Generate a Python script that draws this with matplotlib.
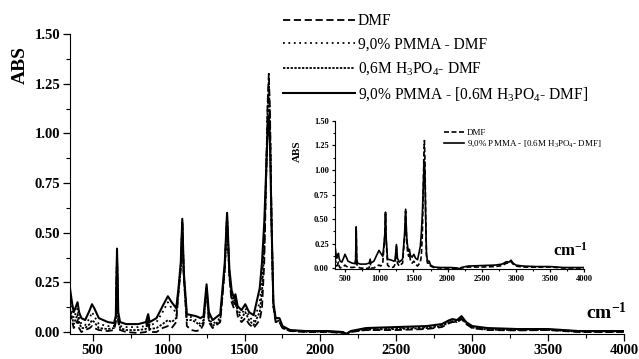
import matplotlib
matplotlib.use("Agg")
import matplotlib.pyplot as plt
from matplotlib.ticker import MultipleLocator

plt.rcParams["font.family"] = ["Liberation Serif", "DejaVu Serif"]
plt.rcParams["mathtext.fontset"] = "custom"
plt.rcParams["mathtext.rm"] = "Liberation Serif"
plt.rcParams["mathtext.it"] = "Liberation Serif:italic"
plt.rcParams["mathtext.bf"] = "Liberation Serif:bold"

# %%
# wavenumbers (cm-1) shared by all spectra
wn = [350, 365, 375, 390, 400, 410, 425, 450, 480, 495, 510, 540, 600, 640, 652,
      660, 668, 680, 720, 800, 850, 865, 875, 920, 960, 995, 1020, 1050, 1065,
      1080, 1090, 1100, 1120, 1150, 1180, 1210, 1230, 1250, 1265, 1290, 1340,
      1370, 1385, 1400, 1415, 1430, 1440, 1455, 1480, 1505, 1530, 1560, 1600,
      1615, 1630, 1642, 1652, 1660, 1668, 1678, 1690, 1705, 1730, 1750, 1800,
      1900, 2050, 2150, 2170, 2200, 2300, 2500, 2700, 2800, 2850, 2870, 2900,
      2930, 2960, 3000, 3100, 3300, 3500, 3600, 3700, 4000]

abs_dmf = [0.10, 0.05, 0.02, 0.04, 0.06, 0.02, 0.00, 0.01, 0.02, 0.03, 0.02, 0.01, 0.005, 0.01, 0.05,
           0.40, 0.05, 0.01, 0.00, -0.005, 0.00, 0.06, 0.00, 0.00, 0.02, 0.03, 0.02, 0.05, 0.20,
           0.32, 0.55, 0.28, 0.03, 0.01, 0.005, 0.01, 0.04, 0.22, 0.05, 0.02, 0.05,
           0.32, 0.58, 0.28, 0.15, 0.12, 0.15, 0.08, 0.05, 0.07, 0.04, 0.02, 0.06,
           0.12, 0.35, 0.75, 1.15, 1.30, 1.10, 0.55, 0.13, 0.05, 0.05, 0.02, 0.005,
           0.00, 0.00, -0.005, -0.01, 0.00, 0.01, 0.01, 0.015, 0.025, 0.045, 0.05, 0.05,
           0.065, 0.04, 0.02, 0.01, 0.008, 0.01, 0.005, 0.00, 0.00]

abs_pmma_dmf = [0.16, 0.10, 0.07, 0.10, 0.12, 0.07, 0.04, 0.035, 0.07, 0.10, 0.08, 0.04, 0.03, 0.03, 0.07,
                0.38, 0.07, 0.03, 0.025, 0.025, 0.03, 0.08, 0.03, 0.05, 0.10, 0.15, 0.12, 0.10, 0.21,
                0.33, 0.55, 0.29, 0.08, 0.075, 0.06, 0.04, 0.06, 0.23, 0.07, 0.04, 0.07,
                0.33, 0.59, 0.29, 0.19, 0.15, 0.18, 0.11, 0.09, 0.12, 0.08, 0.05, 0.15,
                0.27, 0.48, 0.78, 1.08, 1.22, 1.02, 0.55, 0.14, 0.06, 0.055, 0.025, 0.008,
                0.003, 0.003, -0.003, -0.01, 0.003, 0.015, 0.02, 0.025, 0.035, 0.055, 0.06, 0.055,
                0.075, 0.045, 0.025, 0.015, 0.012, 0.012, 0.008, 0.003, 0.003]

abs_h3po4_dmf = [0.12, 0.07, 0.04, 0.07, 0.09, 0.05, 0.02, 0.02, 0.04, 0.06, 0.05, 0.02, 0.015, 0.02, 0.06,
                 0.39, 0.06, 0.02, 0.01, 0.01, 0.015, 0.07, 0.015, 0.02, 0.04, 0.06, 0.05, 0.07, 0.20,
                 0.32, 0.55, 0.28, 0.06, 0.06, 0.05, 0.03, 0.05, 0.22, 0.06, 0.03, 0.06,
                 0.32, 0.58, 0.28, 0.17, 0.14, 0.17, 0.10, 0.07, 0.10, 0.06, 0.035, 0.10,
                 0.20, 0.42, 0.77, 1.12, 1.26, 1.05, 0.55, 0.13, 0.055, 0.05, 0.02, 0.006,
                 0.002, 0.002, -0.004, -0.01, 0.002, 0.012, 0.015, 0.02, 0.03, 0.05, 0.055, 0.05,
                 0.07, 0.042, 0.022, 0.012, 0.01, 0.011, 0.006, 0.002, 0.002]

abs_pmma_h3po4 = [0.22, 0.14, 0.10, 0.13, 0.15, 0.10, 0.07, 0.06, 0.11, 0.14, 0.12, 0.07, 0.05, 0.045, 0.08,
                  0.42, 0.10, 0.05, 0.04, 0.04, 0.05, 0.09, 0.05, 0.07, 0.13, 0.18, 0.15, 0.12, 0.22,
                  0.35, 0.57, 0.30, 0.09, 0.085, 0.08, 0.07, 0.08, 0.24, 0.10, 0.06, 0.09,
                  0.35, 0.60, 0.32, 0.21, 0.17, 0.19, 0.13, 0.11, 0.14, 0.10, 0.085, 0.22,
                  0.35, 0.55, 0.80, 1.00, 1.09, 0.95, 0.55, 0.15, 0.07, 0.07, 0.03, 0.01,
                  0.005, 0.005, 0.00, -0.01, 0.005, 0.02, 0.025, 0.03, 0.04, 0.06, 0.065, 0.06,
                  0.08, 0.05, 0.03, 0.02, 0.015, 0.015, 0.01, 0.005, 0.005]

labels = ["DMF", "9,0% PMMA - DMF", "0,6M H$_3$PO$_4$- DMF",
          "9,0% PMMA - [0.6M H$_3$PO$_4$- DMF]"]
x_ticks = [500, 1000, 1500, 2000, 2500, 3000, 3500, 4000]
y_ticks = [0.00, 0.25, 0.50, 0.75, 1.00, 1.25, 1.50]


# %%
def style_axes(ax, tick_size, major_len, minor_len):
    ax.spines["top"].set_visible(False)
    ax.spines["right"].set_visible(False)
    ax.set_xlim(350, 4000)
    ax.set_ylim(-0.01, 1.5)
    ax.set_xticks(x_ticks)
    ax.set_yticks(y_ticks)
    ax.set_yticklabels(["%.2f" % v for v in y_ticks])
    ax.xaxis.set_minor_locator(MultipleLocator(250))
    ax.yaxis.set_minor_locator(MultipleLocator(0.125))
    ax.tick_params(which="major", length=major_len, width=0.9, labelsize=tick_size, pad=2)
    ax.tick_params(which="minor", length=minor_len, width=0.8)
    for lab in ax.get_xticklabels() + ax.get_yticklabels():
        lab.set_fontweight("bold")


fig = plt.figure(figsize=(6.39, 3.59), dpi=100)

# main axes
ax = fig.add_axes([0.1095, 0.0696, 0.8670, 0.8357])
ax.plot(wn, abs_dmf, color="black", lw=1.3, ls=(0, (4, 2)), label=labels[0])
ax.plot(wn, abs_pmma_dmf, color="black", lw=1.3, ls=(0, (1, 2)), label=labels[1])
ax.plot(wn, abs_h3po4_dmf, color="black", lw=1.3, ls=(0, (1.3, 0.8)), label=labels[2])
ax.plot(wn, abs_pmma_h3po4, color="black", lw=1.5, ls="-", label=labels[3])
style_axes(ax, 10.5, 5, 3)
ax.text(0.932, 0.035, r"cm$^{\mathbf{-1}}$", transform=ax.transAxes,
        fontsize=14, fontweight="bold", ha="left", va="bottom")
fig.text(20 / 639, 1 - 65 / 359, "ABS", rotation=90, fontsize=14,
         fontweight="bold", ha="center", va="center")
fig.legend(loc="upper left", bbox_to_anchor=(283 / 639, 1 - 13 / 359),
           frameon=False, fontsize=11.2, handlelength=4.6, handletextpad=0.2,
           labelspacing=0.5, borderpad=0, borderaxespad=0)

# inset
axi = fig.add_axes([0.5243, 0.2507, 0.3897, 0.4123])
axi.plot(wn, abs_dmf, color="black", lw=1.2, ls=(0, (3, 1.5)), label=labels[0])
axi.plot(wn, abs_pmma_h3po4, color="black", lw=1.2, ls="-", label=labels[3])
style_axes(axi, 6, 2.5, 1.5)
axi.text(0.875, 0.065, r"cm$^{\mathbf{-1}}$", transform=axi.transAxes,
         fontsize=12, fontweight="bold", ha="left", va="bottom")
fig.text(297 / 639, 1 - 151 / 359, "ABS", rotation=90, fontsize=8,
         fontweight="bold", ha="center", va="center")
axi.legend(loc="upper left", bbox_to_anchor=(444 / 639, 1 - 129 / 359),
           bbox_transform=fig.transFigure, frameon=False, fontsize=6.5,
           handlelength=2.2, handletextpad=0.3, labelspacing=0.15,
           borderpad=0, borderaxespad=0)

fig.savefig("out.png", dpi=100)
